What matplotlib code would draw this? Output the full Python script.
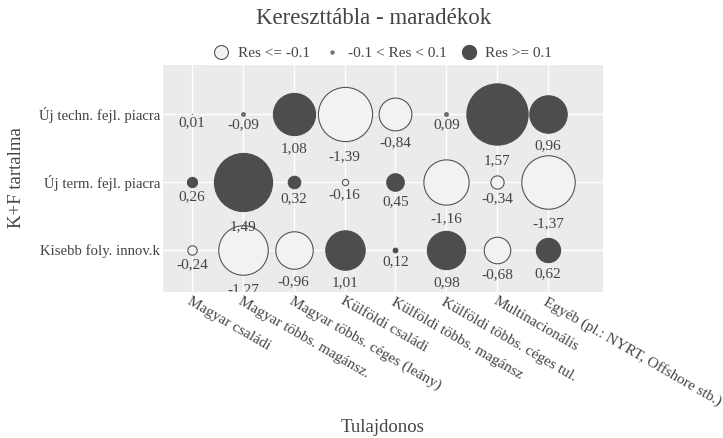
import numpy as np
import matplotlib.pyplot as plt
from matplotlib.lines import Line2D

plt.rcParams['font.family'] = ['Liberation Serif', 'DejaVu Serif']

# adatok
tulajdonos = ['Magyar családi', 'Magyar többs. magánsz.', 'Magyar többs. céges (leány)',
              'Külföldi családi', 'Külföldi többs. magánsz', 'Külföldi többs. céges tul.',
              'Multinacionális', 'Egyéb (pl.: NYRT, Offshore stb.)']
kf_tartalma = ['Kisebb foly. innov.k', 'Új term. fejl. piacra', 'Új techn. fejl. piacra']

res_kisebb = [-0.24, -1.27, -0.96, 1.01, 0.12, 0.98, -0.68, 0.62]
res_term = [0.26, 1.49, 0.32, -0.16, 0.45, -1.16, -0.34, -1.37]
res_techn = [0.01, -0.09, 1.08, -1.39, -0.84, 0.09, 1.57, 0.96]

sorok = [res_kisebb, res_term, res_techn]

sotet = '#4d4d4d'
vilagos = '#f2f2f2'
szurke = '#7f7f7f'
szoveg = '#444444'

fig = plt.figure(figsize=(7.23, 4.38), dpi=100)
ax = fig.add_axes([163 / 723, 1 - 292 / 438, 440 / 723, 227 / 438])
ax.set_facecolor('#ebebeb')

px = 0.72  # pont / pixel
for j, sor in enumerate(sorok):
    for i, r in enumerate(sor):
        d = 39 * abs(r)
        if r >= 0.1:
            fc, ec = sotet, sotet
        elif r <= -0.1:
            fc, ec = vilagos, '#555555'
        else:
            fc, ec = szurke, '#555555'
        ax.scatter(i, j, s=(d * px) ** 2, facecolor=fc, edgecolor=ec,
                   linewidth=0.8, zorder=3)
        off = (d / 2 * 1.25 + 2) * px
        ax.annotate(f'{r:.2f}'.replace('.', ','), (i, j), xytext=(0, -off),
                    textcoords='offset points', ha='center', va='top',
                    fontsize=11, color=szoveg, zorder=4, annotation_clip=False,
                    clip_on=True)

ax.set_xlim(-0.57, 8.08)
ax.set_ylim(-0.62, 2.72)
ax.set_xticks(range(len(tulajdonos)))
ax.set_xticklabels(tulajdonos, rotation=-30, ha='left', va='top',
                   rotation_mode='anchor', fontsize=11, color=szoveg)
ax.set_yticks(range(len(kf_tartalma)))
ax.set_yticklabels(kf_tartalma, fontsize=10.6, color=szoveg)
ax.tick_params(length=0, pad=2)
ax.grid(color='white', linewidth=1)
ax.set_axisbelow(True)
for s in ax.spines.values():
    s.set_visible(False)

fig.text(383 / 723, 1 - 428 / 438, 'Tulajdonos', ha='center', va='center',
         fontsize=13.5, color=szoveg)
fig.text(17 / 723, 1 - 178 / 438, 'K+F tartalma', ha='center', va='center',
         rotation=90, fontsize=13.5, color=szoveg)

fig.text(374 / 723, 1 - 18 / 438, 'Kereszttábla - maradékok', ha='center', va='center',
         fontsize=16.5, color=szoveg)

handles = [
    Line2D([], [], marker='o', linestyle='none', markersize=10, markerfacecolor=vilagos,
           markeredgecolor='#555555', markeredgewidth=0.8),
    Line2D([], [], marker='o', linestyle='none', markersize=2.5, markerfacecolor=szurke,
           markeredgecolor='#555555', markeredgewidth=0.5),
    Line2D([], [], marker='o', linestyle='none', markersize=10, markerfacecolor=sotet,
           markeredgecolor=sotet),
]
leg = fig.legend(handles, ['Res <= -0.1', '-0.1 < Res < 0.1', 'Res >= 0.1'],
                 loc='center', bbox_to_anchor=(383 / 723, 1 - 53 / 438), ncol=3,
                 frameon=True, fancybox=False, edgecolor='white', framealpha=1,
                 fontsize=11, handlelength=1.0, handletextpad=0.6, columnspacing=0.9,
                 borderpad=0.3, labelcolor=szoveg)
leg.set_zorder(10)

fig.savefig('out.png', dpi=100)
